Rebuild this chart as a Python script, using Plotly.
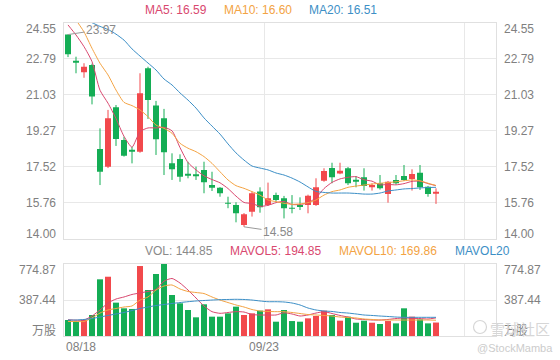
import plotly.graph_objects as go

# ---------------- data ----------------
opens = [23.97, 22.68, 22.13, 22.48, 18.38, 17.52, 20.42, 18.82, 18.30, 18.25, 22.32, 20.50, 19.88, 17.68, 17.89, 17.17,
         17.15, 17.36, 16.62, 16.49, 15.75, 15.65, 14.67, 15.32, 16.30, 15.65, 16.13, 15.97, 15.50, 15.65, 15.65, 15.65,
         16.83, 17.45, 17.19, 17.44, 16.85, 17.00, 16.51, 16.71, 16.18, 16.87, 17.06, 16.92, 17.22, 16.54, 16.23]
closes = [23.01, 22.62, 22.40, 20.94, 17.27, 19.88, 18.87, 18.05, 18.26, 21.10, 20.77, 18.86, 18.22, 17.39, 17.03, 17.12,
          17.05, 16.76, 16.49, 16.22, 15.71, 15.24, 15.19, 16.22, 15.53, 15.97, 15.89, 15.49, 15.47, 15.55, 16.10, 16.51,
          17.31, 17.00, 17.32, 16.71, 16.81, 16.57, 16.62, 16.46, 16.78, 16.71, 16.87, 17.16, 16.51, 16.18, 16.27]
highs = [23.97, 22.89, 22.57, 22.55, 19.39, 20.29, 20.53, 18.98, 18.49, 22.08, 22.40, 20.73, 20.34, 18.17, 18.12, 17.76,
         17.52, 17.76, 17.27, 16.52, 16.05, 15.78, 15.25, 16.30, 16.51, 16.74, 16.25, 16.09, 16.13, 16.02, 16.15, 16.95,
         17.44, 17.71, 17.71, 17.50, 17.06, 17.44, 16.70, 17.11, 16.82, 17.11, 17.60, 17.39, 17.60, 16.58, 16.46]
lows = [22.87, 22.08, 21.86, 20.56, 16.62, 17.45, 18.53, 18.01, 17.68, 18.20, 19.85, 18.09, 17.11, 16.87, 16.78, 16.95,
        16.87, 16.22, 16.33, 16.05, 15.49, 14.80, 14.58, 15.08, 15.27, 15.60, 15.81, 14.99, 15.24, 15.40, 15.24, 15.60,
        16.78, 16.71, 17.15, 16.62, 16.51, 16.35, 16.35, 16.40, 15.76, 16.65, 16.82, 16.35, 16.38, 16.05, 15.70]

ma5 = [24.44, 23.95, 23.38, 22.65, 21.25, 20.62, 19.87, 19.00, 18.47, 19.23, 19.41, 19.41, 19.44, 19.27, 18.45, 17.72,
       17.36, 17.07, 16.89, 16.73, 16.45, 16.08, 15.77, 15.72, 15.58, 15.63, 15.76, 15.82, 15.67, 15.67, 15.75, 16.00,
       16.45, 16.75, 16.92, 17.00, 17.03, 16.88, 16.81, 16.63, 16.65, 16.63, 16.69, 16.80, 16.81, 16.69, 16.59]
ma10 = [25.20, 24.68, 24.10, 23.30, 22.57, 22.00, 21.26, 20.66, 20.50, 20.29, 19.96, 19.55, 19.39, 19.15, 18.66, 18.42,
        18.25, 18.01, 17.68, 17.27, 16.87, 16.59, 16.46, 16.30, 16.13, 15.89, 15.81, 15.73, 15.68, 15.70, 15.76, 15.89,
        16.13, 16.30, 16.38, 16.51, 16.57, 16.62, 16.67, 16.71, 16.74, 16.78, 16.83, 16.87, 16.83, 16.71, 16.60]
ma20 = [25.17, 24.93, 24.71, 24.55, 24.37, 24.22, 23.99, 23.70, 23.27, 22.92, 22.58, 22.24, 21.80, 21.51, 21.12, 20.77,
        20.38, 19.90, 19.50, 19.11, 18.63, 18.19, 17.84, 17.55, 17.45, 17.36, 17.21, 17.11, 16.96, 16.77, 16.53, 16.31,
        16.26, 16.23, 16.23, 16.23, 16.21, 16.18, 16.18, 16.23, 16.33, 16.38, 16.43, 16.45, 16.48, 16.50, 16.51]

volumes = [172, 154, 172, 226, 610, 638, 359, 298, 291, 753, 495, 667, 774.87, 441, 352, 280, 201, 341, 208, 208, 244,
           316, 226, 244, 273, 287, 154, 280, 161, 154, 190, 215, 273, 226, 165, 208, 143, 165, 143, 129, 161, 136, 298,
           208, 179, 136, 144.85]
mavol5 = [175, 170, 172, 215, 280, 355, 398, 420, 447, 463, 480, 500, 590, 619, 570, 495, 409, 323, 262, 244, 253, 262,
          258, 231, 226, 226, 226, 250, 237, 215, 226, 247, 262, 242, 221, 204, 183, 178, 172, 172, 178, 188, 194, 190,
          188, 183, 194.85]
mavol10 = [156, 156, 156, 194, 247, 280, 296, 312, 323, 387, 420, 495, 538, 549, 506, 479, 468, 457, 420, 387, 360, 334,
           312, 285, 269, 264, 262, 262, 253, 242, 231, 226, 221, 215, 204, 199, 194, 183, 178, 172, 172, 172, 172, 172,
           172, 172, 169.86]
mavol20 = [172, 172, 178, 188, 204, 221, 237, 253, 274, 296, 312, 328, 339, 350, 360, 369, 377, 382, 387, 391, 393, 395,
           393, 387, 377, 369, 369, 366, 355, 334, 301, 280, 269, 264, 253, 247, 237, 226, 221, 215, 210, 204, 201, 201,
           201, 201, 201]

price_ticks = [14.00, 15.76, 17.52, 19.27, 21.03, 22.79, 24.55]
vol_ticks = [0, 387.44, 774.87]
vol_tick_labels = ["万股", "387.44", "774.87"]
date_labels = ["08/18", "09/23"]
date_positions = [-0.5, 24.5]
xgrid = [24.5, 49.5]

# ---------------- style ----------------
W, H = 560, 360
RED = "#f2494c"
GREEN = "#14ad55"
C_MA5 = "#d9486f"
C_MA10 = "#f3a343"
C_MA20 = "#3d8fc6"
GRID = "#e8e8e8"
TXT = "#808080"
FONT = "Liberation Sans, Arial, Noto Sans CJK SC, sans-serif"


def px(x):
    return x / W


def py(y):
    return 1 - y / H


n = len(closes)
xs = list(range(n))
up = [c >= o for o, c in zip(opens, closes)]
colors = [RED if u else GREEN for u in up]

fig = go.Figure()

# wicks
for flag, col in ((True, RED), (False, GREEN)):
    wx, wy = [], []
    for i in xs:
        if up[i] == flag:
            wx += [i, i, None]
            wy += [lows[i], highs[i], None]
    fig.add_trace(go.Scatter(x=wx, y=wy, mode="lines", line=dict(color=col, width=1),
                             xaxis="x", yaxis="y", hoverinfo="skip"))

# bodies
fig.add_trace(go.Bar(x=xs, y=[c - o for o, c in zip(opens, closes)], base=opens, width=0.75,
                     marker=dict(color=colors, line=dict(width=0)), xaxis="x", yaxis="y"))

# MA lines
for arr, col in ((ma5, C_MA5), (ma10, C_MA10), (ma20, C_MA20)):
    fig.add_trace(go.Scatter(x=xs, y=arr, mode="lines", line=dict(color=col, width=1, shape="spline", smoothing=0.6),
                             xaxis="x", yaxis="y", hoverinfo="skip"))

# volume
fig.add_trace(go.Bar(x=xs, y=volumes, width=0.75, marker=dict(color=colors, line=dict(width=0)),
                     xaxis="x2", yaxis="y2"))
for arr, col in ((mavol5, C_MA5), (mavol10, C_MA10), (mavol20, C_MA20)):
    fig.add_trace(go.Scatter(x=xs, y=arr, mode="lines", line=dict(color=col, width=1, shape="spline", smoothing=0.6),
                             xaxis="x2", yaxis="y2", hoverinfo="skip"))

xdom = [px(64), px(496)]
xr = [-0.5, 53.5]
axis_common = dict(showgrid=True, gridcolor=GRID, gridwidth=1, zeroline=False, showline=True, mirror=True,
                   linecolor="#e0e0e0", linewidth=1, showticklabels=False, ticks="", fixedrange=True)

fig.update_layout(
    width=W, height=H, margin=dict(l=0, r=0, t=0, b=0), paper_bgcolor="white", plot_bgcolor="white",
    showlegend=False, barmode="overlay", font=dict(family=FONT, size=12, color=TXT),
    xaxis=dict(domain=xdom, range=xr, tickvals=xgrid, anchor="y", **axis_common),
    yaxis=dict(domain=[py(238.7), py(22.7)], range=[price_ticks[0], price_ticks[-1]], tickvals=price_ticks,
               anchor="x", **axis_common),
    xaxis2=dict(domain=xdom, range=xr, tickvals=xgrid, anchor="y2", **axis_common),
    yaxis2=dict(domain=[py(336), py(264)], range=[vol_ticks[0], vol_ticks[-1]], tickvals=vol_ticks,
                anchor="x2", **axis_common),
)

ann = []
# price axis labels
for v in price_ticks:
    shift = -6.5 if v == price_ticks[-1] else (5 if v == price_ticks[0] else 0)
    t = f"{v:.2f}"
    ann.append(dict(text=t, xref="paper", x=px(57.5), xanchor="right", yref="y", y=v, yshift=shift,
                    showarrow=False, font=dict(size=12, color=TXT)))
    ann.append(dict(text=t, xref="paper", x=px(502), xanchor="left", yref="y", y=v, yshift=shift,
                    showarrow=False, font=dict(size=12, color=TXT)))
# volume axis labels
for v, t in zip(vol_ticks, vol_tick_labels):
    shift = -6 if v == vol_ticks[-1] else (5.5 if v == vol_ticks[0] else 0)
    ann.append(dict(text=t, xref="paper", x=px(57.5), xanchor="right", yref="y2", y=v, yshift=shift,
                    showarrow=False, font=dict(size=12, color=TXT)))
    ann.append(dict(text=t, xref="paper", x=px(502), xanchor="left", yref="y2", y=v, yshift=shift,
                    showarrow=False, font=dict(size=12, color=TXT)))
# date labels
for p, t in zip(date_positions, date_labels):
    ann.append(dict(text=t, xref="x2", x=p, xanchor="left" if p < 0 else "center", yref="paper", y=py(347),
                    yanchor="middle", showarrow=False, font=dict(size=12, color=TXT)))

# max / min markers
imax = max(range(n), key=lambda i: highs[i])
imin = min(range(n), key=lambda i: lows[i])
ann.append(dict(text=f"{highs[imax]:.2f}", xref="x", yref="y", x=imax, y=highs[imax], showarrow=True, arrowhead=0,
                arrowwidth=1, arrowcolor="#9a9a9a", ax=33, ay=-5, standoff=0, font=dict(size=12, color="#8a8a8a")))
ann.append(dict(text=f"{lows[imin]:.2f}", xref="x", yref="y", x=imin, y=lows[imin], showarrow=True, arrowhead=0,
                arrowwidth=1, arrowcolor="#9a9a9a", ax=34, ay=5, standoff=0, font=dict(size=12, color="#8a8a8a")))

# legends
top_items = [(f"MA5: {ma5[-1]:.2f}", C_MA5, 142.7), (f"MA10: {ma10[-1]:.2f}", C_MA10, 221.7),
             (f"MA20: {ma20[-1]:.2f}", C_MA20, 307)]
for t, c, x in top_items:
    ann.append(dict(text=t, xref="paper", yref="paper", x=px(x), y=py(9.5), xanchor="left", yanchor="middle",
                    showarrow=False, font=dict(size=12, color=c)))
vol_items = [(f"VOL: {volumes[-1]:.2f}", "#8a8a8a", 143), (f"MAVOL5: {mavol5[-1]:.2f}", C_MA5, 227.7),
             (f"MAVOL10: {mavol10[-1]:.2f}", C_MA10, 337), ("MAVOL20", C_MA20, 453)]
for t, c, x in vol_items:
    ann.append(dict(text=t, xref="paper", yref="paper", x=px(x), y=py(250.5), xanchor="left", yanchor="middle",
                    showarrow=False, font=dict(size=12, color=c)))

# watermark
ann.append(dict(text="雪球社区", xref="paper", yref="paper", x=px(520), y=py(328), xanchor="center",
                yanchor="middle", showarrow=False, font=dict(size=15, color="#d6d6d6", family="Noto Sans CJK SC")))
ann.append(dict(text="@StockMamba", xref="paper", yref="paper", x=px(515), y=py(348), xanchor="center",
                yanchor="middle", showarrow=False, font=dict(size=11, color="#cccccc")))
fig.add_shape(type="circle", xref="paper", yref="paper", x0=px(473.5), x1=px(486.5), y0=py(333.5), y1=py(320.5),
              line=dict(color="#d6d6d6", width=1.2))

fig.update_layout(annotations=ann)
fig.write_html("out.html")
